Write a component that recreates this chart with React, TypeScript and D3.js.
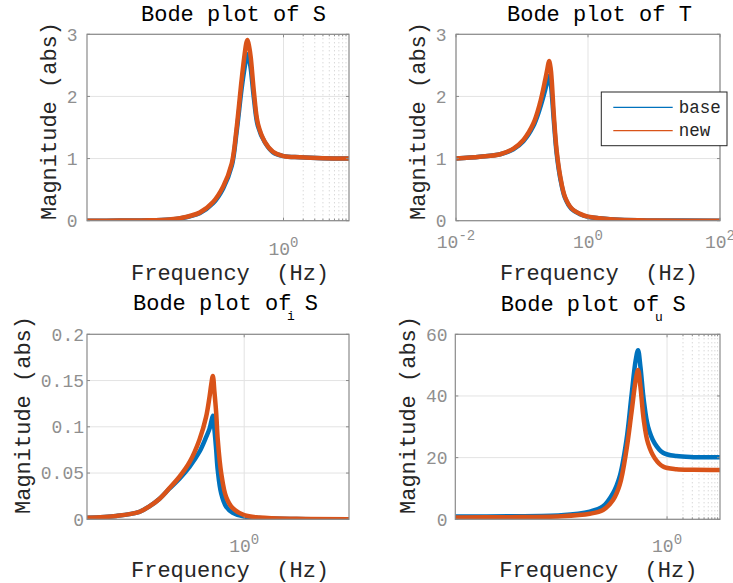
import * as d3 from "d3";
import React, { useEffect, useRef } from "react";

// Bode magnitude of S
const sFreq = [0.001, 0.00316, 0.00912, 0.0182, 0.0263, 0.0525, 0.0841, 0.12, 0.162, 0.191, 0.229, 0.251, 0.272, 0.282, 0.299, 0.316, 0.355, 0.407, 0.519, 0.692, 1, 1.78, 3.98, 10];
const sBase = [0.0002, 0.002, 0.006, 0.019, 0.037, 0.12, 0.28, 0.52, 0.88, 1.4, 2.12, 2.42, 2.63, 2.68, 2.6, 2.45, 1.95, 1.52, 1.26, 1.1, 1.04, 1.02, 1.005, 1.0];
const sNew = [0.0002, 0.002, 0.006, 0.02, 0.04, 0.13, 0.3, 0.55, 0.92, 1.46, 2.26, 2.62, 2.87, 2.91, 2.8, 2.63, 2.05, 1.56, 1.27, 1.11, 1.04, 1.02, 1.005, 1.0];

// Bode magnitude of T
const tFreq = [0.01, 0.0229, 0.0468, 0.0741, 0.105, 0.148, 0.186, 0.224, 0.243, 0.257, 0.272, 0.282, 0.305, 0.335, 0.38, 0.447, 0.562, 0.759, 1, 1.51, 3.02, 10, 100];
const tBase = [1.0, 1.03, 1.07, 1.15, 1.28, 1.52, 1.8, 2.1, 2.25, 2.33, 2.22, 2.06, 1.58, 1.08, 0.68, 0.37, 0.19, 0.105, 0.062, 0.038, 0.014, 0.004, 0.0];
const tNew = [1.0, 1.03, 1.07, 1.16, 1.3, 1.56, 1.88, 2.26, 2.45, 2.57, 2.45, 2.26, 1.67, 1.13, 0.71, 0.385, 0.2, 0.11, 0.065, 0.04, 0.015, 0.004, 0.0];

// Bode magnitude of S_i
const siFreq = [0.001, 0.00363, 0.01, 0.0155, 0.024, 0.0372, 0.0582, 0.0912, 0.14, 0.188, 0.218, 0.234, 0.252, 0.271, 0.292, 0.313, 0.364, 0.453, 0.605, 1, 1.95, 10, 100];
const siBase = [0.0017, 0.0036, 0.008, 0.014, 0.022, 0.033, 0.044, 0.057, 0.073, 0.089, 0.098, 0.105, 0.112, 0.0965, 0.075, 0.053, 0.028, 0.0136, 0.007, 0.003, 0.0015, 0.0004, 0.0001];
const siNew = [0.0017, 0.0036, 0.008, 0.014, 0.022, 0.0335, 0.046, 0.062, 0.086, 0.111, 0.1325, 0.145, 0.155, 0.137, 0.115, 0.086, 0.05, 0.024, 0.012, 0.0046, 0.002, 0.0005, 0.0001];

// Bode magnitude of S_u
const suFreq = [0.0001, 0.001, 0.01, 0.0347, 0.0617, 0.0955, 0.128, 0.171, 0.212, 0.256, 0.283, 0.314, 0.363, 0.438, 0.586, 0.839, 1.51, 3.16, 10];
const suBase = [0.9, 1.0, 1.3, 2.5, 4.2, 8.5, 14, 25.7, 39.8, 51.7, 54.8, 49.5, 38.7, 30, 24.6, 21.6, 20.5, 20.15, 20.1];
const suNew = [0.6, 0.7, 1.0, 1.8, 3.0, 6.3, 11.3, 22.5, 34.4, 45.2, 48.4, 43, 32.2, 24.6, 19.8, 17.1, 16.2, 16.05, 16.0];

const seriesNames = ["base", "new"];
const seriesColors = ["#0072BD", "#D95319"];

const minorDecade = [2, 3, 4, 5, 6, 7, 8, 9];

interface Panel {
  id: string;
  title: string;
  sub?: string;
  freq: number[];
  base: number[];
  fresh: number[];
  xDomain: [number, number];
  yDomain: [number, number];
  xTicks: number[];
  xMinor: number[];
  yTicks: number[];
  left: number;
  right: number;
  top: number;
  bottom: number;
  titleDx: number;
  titleY: number;
  xTickDy: number;
  xLabelDy: number;
  yLabelX: number;
  yLabelY: number;
  yTickX: number;
  legend?: boolean;
}

const panels: Panel[] = [
  {
    id: "s", title: "Bode plot of S", freq: sFreq, base: sBase, fresh: sNew,
    xDomain: [1e-3, 1e1], yDomain: [0, 3], xTicks: [1], xMinor: minorDecade,
    yTicks: [0, 1, 2, 3],
    left: 87, right: 349, top: 34.3, bottom: 220.7,
    titleDx: 54, titleY: 21, xTickDy: 34, xLabelDy: 59, yLabelX: 49, yLabelY: 121, yTickX: 77.5,
  },
  {
    id: "t", title: "Bode plot of T", freq: tFreq, base: tBase, fresh: tNew,
    xDomain: [1e-2, 1e2], yDomain: [0, 3], xTicks: [0.01, 1, 100], xMinor: [],
    yTicks: [0, 1, 2, 3],
    left: 456, right: 720, top: 34.3, bottom: 220.7,
    titleDx: 51, titleY: 21, xTickDy: 27.5, xLabelDy: 59, yLabelX: 418.5, yLabelY: 121, yTickX: 446.5,
    legend: true,
  },
  {
    id: "si", title: "Bode plot of S", sub: "i", freq: siFreq, base: siBase, fresh: siNew,
    xDomain: [1e-3, 1e2], yDomain: [0, 0.2], xTicks: [1], xMinor: [],
    yTicks: [0, 0.05, 0.1, 0.15, 0.2],
    left: 87, right: 349, top: 334.3, bottom: 519.3,
    titleDx: 46, titleY: 310, xTickDy: 32.4, xLabelDy: 58, yLabelX: 23, yLabelY: 415, yTickX: 84,
  },
  {
    id: "su", title: "Bode plot of S", sub: "u", freq: suFreq, base: suBase, fresh: suNew,
    xDomain: [1e-4, 1e1], yDomain: [0, 60], xTicks: [1], xMinor: minorDecade,
    yTicks: [0, 20, 40, 60],
    left: 455.3, right: 720, top: 334.3, bottom: 519.3,
    titleDx: 45.5, titleY: 310.5, xTickDy: 32.4, xLabelDy: 58, yLabelX: 408.5, yLabelY: 415, yTickX: 447.5,
  },
];

const FONT = "'Liberation Mono', 'DejaVu Sans Mono', monospace";
const BOX = "#8a8a8a";
const TICKTXT = "#8f8f8f";

function drawPanel(svg: d3.Selection<SVGSVGElement, unknown, null, undefined>, p: Panel) {
  const x = d3.scaleLog().domain(p.xDomain).range([p.left, p.right]);
  const y = d3.scaleLinear().domain(p.yDomain).range([p.bottom, p.top]);
  const g = svg.append("g");

  g.append("rect")
    .attr("x", p.left).attr("y", p.top)
    .attr("width", p.right - p.left).attr("height", p.bottom - p.top)
    .attr("fill", "#fff");

  // minor grid
  g.selectAll(".minor")
    .data(p.xMinor)
    .join("line")
    .attr("x1", (d) => x(d)).attr("x2", (d) => x(d))
    .attr("y1", p.top).attr("y2", p.bottom)
    .attr("stroke", "#c8c8c8")
    .attr("stroke-width", 1)
    .attr("stroke-dasharray", "1,3");

  // major grid
  g.selectAll(".xgrid")
    .data(p.xTicks)
    .join("line")
    .attr("x1", (d) => x(d)).attr("x2", (d) => x(d))
    .attr("y1", p.top).attr("y2", p.bottom)
    .attr("stroke", "#e3e3e3")
    .attr("stroke-width", 1);
  g.selectAll(".ygrid")
    .data(p.yTicks)
    .join("line")
    .attr("x1", p.left).attr("x2", p.right)
    .attr("y1", (d) => y(d)).attr("y2", (d) => y(d))
    .attr("stroke", "#e3e3e3")
    .attr("stroke-width", 1);

  // curves
  const clipId = `clip-${p.id}`;
  g.append("clipPath").attr("id", clipId)
    .append("rect")
    .attr("x", p.left).attr("y", p.top - 3)
    .attr("width", p.right - p.left).attr("height", p.bottom - p.top + 3);

  const line = d3
    .line<number>()
    .x((_, i) => x(p.freq[i]))
    .y((d) => y(d))
    .curve(d3.curveCatmullRom.alpha(0.5));

  [p.base, p.fresh].forEach((vals, k) => {
    g.append("path")
      .attr("clip-path", `url(#${clipId})`)
      .attr("d", line(vals))
      .attr("fill", "none")
      .attr("stroke", seriesColors[k])
      .attr("stroke-width", 4.5)
      .attr("stroke-linejoin", "round")
      .attr("stroke-linecap", "round");
  });

  // box
  g.append("rect")
    .attr("x", p.left).attr("y", p.top)
    .attr("width", p.right - p.left).attr("height", p.bottom - p.top)
    .attr("fill", "none")
    .attr("stroke", BOX)
    .attr("stroke-width", 1.2);

  // tick marks
  const xt = [...p.xTicks.map((v) => ({ v, len: 3 })), ...p.xMinor.map((v) => ({ v, len: 2 }))];
  [p.bottom, p.top].forEach((edge, k) => {
    g.selectAll(`.xt${k}`)
      .data(xt)
      .join("line")
      .attr("x1", (d) => x(d.v)).attr("x2", (d) => x(d.v))
      .attr("y1", edge).attr("y2", (d) => edge + (k === 0 ? -d.len : d.len))
      .attr("stroke", BOX);
  });
  [p.left, p.right].forEach((edge, k) => {
    g.selectAll(`.yt${k}`)
      .data(p.yTicks)
      .join("line")
      .attr("x1", edge).attr("x2", edge + (k === 0 ? 3 : -3))
      .attr("y1", (d) => y(d)).attr("y2", (d) => y(d))
      .attr("stroke", BOX);
  });

  // y tick labels
  g.selectAll(".ylab")
    .data(p.yTicks)
    .join("text")
    .attr("x", p.yTickX)
    .attr("y", (d) => y(d))
    .attr("dy", "0.35em")
    .attr("text-anchor", "end")
    .attr("font-family", FONT)
    .attr("font-size", 18)
    .attr("fill", TICKTXT)
    .text((d) => String(d));

  // x tick labels 10^n
  const xl = g.selectAll(".xlab")
    .data(p.xTicks)
    .join("text")
    .attr("x", (d) => x(d))
    .attr("y", p.bottom + p.xTickDy)
    .attr("text-anchor", "middle")
    .attr("font-family", FONT)
    .attr("font-size", 18)
    .attr("fill", TICKTXT);
  xl.append("tspan").text("10");
  xl.append("tspan")
    .attr("dy", -8)
    .attr("font-size", 14)
    .text((d) => String(Math.round(Math.log10(d))));

  // title
  g.append("text")
    .attr("x", p.left + p.titleDx)
    .attr("y", p.titleY)
    .attr("font-family", FONT)
    .attr("font-size", 22)
    .attr("fill", "#000")
    .text(p.title);
  if (p.sub) {
    g.append("text")
      .attr("x", p.left + p.titleDx + 158)
      .attr("y", p.titleY + 10)
      .attr("text-anchor", "middle")
      .attr("font-family", FONT)
      .attr("font-size", 13)
      .attr("fill", "#000")
      .text(p.sub);
  }

  // axis labels
  g.append("text")
    .attr("x", p.left + 44)
    .attr("y", p.bottom + p.xLabelDy)
    .attr("font-family", FONT)
    .attr("font-size", 22)
    .attr("fill", "#262626")
    .attr("xml:space", "preserve")
    .style("white-space", "pre")
    .text("Frequency  (Hz)");
  g.append("text")
    .attr("transform", `translate(${p.yLabelX},${p.yLabelY}) rotate(-90)`)
    .attr("text-anchor", "middle")
    .attr("dy", "0.3em")
    .attr("font-family", FONT)
    .attr("font-size", 22)
    .attr("fill", "#262626")
    .text("Magnitude (abs)");

  if (p.legend) {
    const lx = p.right - 118.7;
    const ly = p.top + 57.7;
    const lg = g.append("g");
    lg.append("rect")
      .attr("x", lx).attr("y", ly)
      .attr("width", 125.7).attr("height", 53.7)
      .attr("fill", "#fff")
      .attr("stroke", "#262626")
      .attr("stroke-width", 1);
    seriesNames.forEach((name, k) => {
      const yy = ly + 15.3 + k * 23.4;
      lg.append("line")
        .attr("x1", lx + 12).attr("x2", lx + 71.4)
        .attr("y1", yy).attr("y2", yy)
        .attr("stroke", seriesColors[k])
        .attr("stroke-width", 1.2);
      lg.append("text")
        .attr("x", lx + 77.4)
        .attr("y", yy)
        .attr("dy", "0.33em")
        .attr("font-family", FONT)
        .attr("font-size", 17.5)
        .attr("fill", "#262626")
        .text(name);
    });
  }
}

const App: React.FC = () => {
  const ref = useRef<SVGSVGElement>(null);

  useEffect(() => {
    if (!ref.current) return;
    const svg = d3.select(ref.current);
    svg.selectAll("*").remove();
    panels.forEach((p) => drawPanel(svg, p));
  }, []);

  return (
    <svg
      ref={ref}
      width={733}
      height={583}
      style={{ position: "absolute", left: 0, top: 0, background: "#fff" }}
    />
  );
};

export default App;
